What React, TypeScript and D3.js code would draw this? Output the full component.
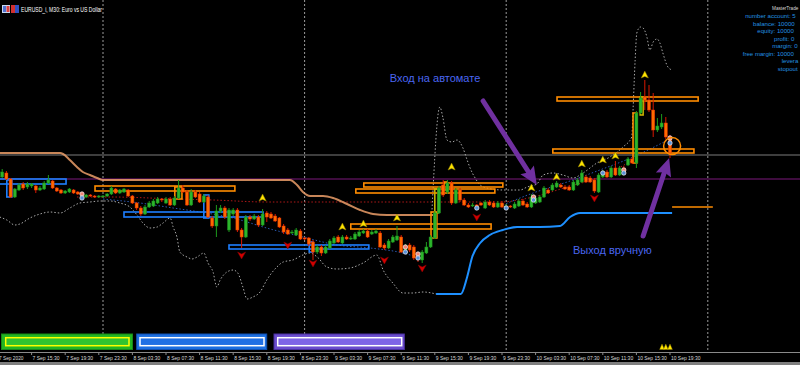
import React from 'react';
import * as d3 from 'd3';

const W = 800;
const H = 365;
const AXIS_Y = 352;

// M30 candles, 7 Sep 2020 12:00 .. 10 Sep 2020 19:30  [open, high, low, close]
const candles: [number, number, number, number][] = [
  [1.1773,1.1781,1.1772,1.1778],[1.1777,1.1779,1.1770,1.1771],[1.1771,1.1772,1.1752,1.1753],[1.1753,1.1762,1.1752,1.1761],
  [1.1760,1.1767,1.1759,1.1765],[1.1766,1.1768,1.1760,1.1762],[1.1763,1.1768,1.1761,1.1766],[1.1764,1.1767,1.1762,1.1766],
  [1.1764,1.1765,1.1757,1.1760],[1.1760,1.1764,1.1759,1.1762],[1.1761,1.1769,1.1760,1.1767],[1.1767,1.1775,1.1766,1.1770],
  [1.1769,1.1770,1.1761,1.1762],[1.1762,1.1763,1.1758,1.1759],[1.1760,1.1761,1.1756,1.1757],[1.1757,1.1760,1.1756,1.1759],
  [1.1758,1.1762,1.1757,1.1761],[1.1760,1.1761,1.1756,1.1757],[1.1758,1.1759,1.1755,1.1756],[1.1757,1.1758,1.1754,1.1755],
  [1.1753,1.1756,1.1752,1.1755],[1.1755,1.1756,1.1753,1.1754],[1.1754,1.1755,1.1752,1.1753],[1.1753,1.1755,1.1752,1.1754],
  [1.1754,1.1755,1.1753,1.1754],[1.1754,1.1757,1.1753,1.1756],[1.1756,1.1764,1.1755,1.1762],[1.1761,1.1762,1.1756,1.1757],
  [1.1757,1.1761,1.1756,1.1760],[1.1758,1.1762,1.1757,1.1761],[1.1760,1.1761,1.1753,1.1754],[1.1754,1.1755,1.1746,1.1747],
  [1.1747,1.1748,1.1740,1.1742],[1.1742,1.1744,1.1734,1.1736],[1.1736,1.1745,1.1735,1.1743],[1.1743,1.1749,1.1742,1.1747],
  [1.1744,1.1751,1.1743,1.1749],[1.1747,1.1753,1.1746,1.1751],[1.1751,1.1752,1.1748,1.1750],[1.1747,1.1753,1.1746,1.1751],
  [1.1751,1.1753,1.1744,1.1745],[1.1745,1.1754,1.1744,1.1752],[1.1752,1.1770,1.1751,1.1762],[1.1762,1.1765,1.1757,1.1758],
  [1.1758,1.1760,1.1744,1.1745],[1.1745,1.1761,1.1744,1.1758],[1.1758,1.1760,1.1752,1.1753],[1.1756,1.1758,1.1747,1.1748],
  [1.1748,1.1756,1.1747,1.1754],[1.1753,1.1755,1.1732,1.1733],[1.1732,1.1734,1.1722,1.1724],[1.1724,1.1745,1.1713,1.1739],
  [1.1739,1.1745,1.1737,1.1742],[1.1742,1.1744,1.1731,1.1733],[1.1720,1.1742,1.1718,1.1740],[1.1736,1.1742,1.1734,1.1740],
  [1.1740,1.1742,1.1718,1.1720],[1.1720,1.1722,1.1702,1.1713],[1.1713,1.1735,1.1712,1.1733],[1.1733,1.1735,1.1729,1.1731],
  [1.1731,1.1736,1.1730,1.1734],[1.1733,1.1735,1.1723,1.1725],[1.1725,1.1741,1.1724,1.1736],[1.1737,1.1739,1.1728,1.1733],
  [1.1736,1.1738,1.1731,1.1732],[1.1734,1.1736,1.1728,1.1729],[1.1732,1.1733,1.1722,1.1723],[1.1724,1.1726,1.1716,1.1718],
  [1.1720,1.1722,1.1715,1.1716],[1.1717,1.1720,1.1716,1.1718],[1.1715,1.1722,1.1714,1.1720],[1.1719,1.1721,1.1710,1.1711],
  [1.1712,1.1713,1.1710,1.1711],[1.1712,1.1713,1.1704,1.1706],[1.1708,1.1710,1.1690,1.1698],[1.1698,1.1705,1.1696,1.1703],
  [1.1703,1.1705,1.1694,1.1697],[1.1697,1.1705,1.1696,1.1703],[1.1702,1.1711,1.1701,1.1709],[1.1707,1.1714,1.1706,1.1712],
  [1.1713,1.1715,1.1707,1.1708],[1.1707,1.1715,1.1706,1.1713],[1.1713,1.1715,1.1710,1.1711],[1.1711,1.1714,1.1710,1.1712],
  [1.1711,1.1718,1.1710,1.1716],[1.1714,1.1720,1.1713,1.1718],[1.1717,1.1721,1.1716,1.1719],[1.1719,1.1721,1.1712,1.1713],
  [1.1716,1.1720,1.1715,1.1718],[1.1717,1.1721,1.1716,1.1719],[1.1717,1.1719,1.1702,1.1703],[1.1705,1.1707,1.1700,1.1702],
  [1.1702,1.1711,1.1701,1.1709],[1.1708,1.1715,1.1707,1.1713],[1.1710,1.1724,1.1709,1.1714],[1.1713,1.1715,1.1697,1.1698],
  [1.1700,1.1706,1.1699,1.1704],[1.1705,1.1707,1.1698,1.1700],[1.1703,1.1705,1.1690,1.1692],[1.1694,1.1696,1.1688,1.1692],
  [1.1690,1.1700,1.1687,1.1698],[1.1697,1.1708,1.1696,1.1703],[1.1703,1.1715,1.1702,1.1713],[1.1712,1.1739,1.1711,1.1737],
  [1.1737,1.1764,1.1736,1.1762],[1.1765,1.1770,1.1753,1.1755],[1.1758,1.1770,1.1756,1.1767],[1.1767,1.1769,1.1745,1.1747],
  [1.1747,1.1762,1.1746,1.1760],[1.1760,1.1762,1.1748,1.1750],[1.1750,1.1752,1.1744,1.1745],[1.1745,1.1747,1.1742,1.1743],
  [1.1744,1.1747,1.1743,1.1745],[1.1745,1.1746,1.1743,1.1744],[1.1747,1.1748,1.1744,1.1745],[1.1742,1.1750,1.1741,1.1748],
  [1.1748,1.1750,1.1744,1.1745],[1.1747,1.1749,1.1742,1.1743],[1.1743,1.1749,1.1742,1.1747],[1.1747,1.1749,1.1742,1.1743],
  [1.1743,1.1746,1.1742,1.1744],[1.1744,1.1745,1.1742,1.1743],[1.1742,1.1748,1.1741,1.1746],[1.1744,1.1751,1.1743,1.1749],
  [1.1749,1.1751,1.1744,1.1745],[1.1746,1.1748,1.1742,1.1743],[1.1743,1.1756,1.1742,1.1753],[1.1747,1.1754,1.1746,1.1752],
  [1.1748,1.1755,1.1747,1.1753],[1.1753,1.1764,1.1752,1.1762],[1.1760,1.1762,1.1756,1.1757],[1.1760,1.1767,1.1759,1.1765],
  [1.1763,1.1769,1.1762,1.1767],[1.1765,1.1767,1.1762,1.1763],[1.1763,1.1765,1.1760,1.1761],[1.1763,1.1765,1.1759,1.1760],
  [1.1760,1.1770,1.1759,1.1768],[1.1765,1.1772,1.1764,1.1770],[1.1768,1.1780,1.1767,1.1777],[1.1773,1.1775,1.1767,1.1768],
  [1.1772,1.1774,1.1767,1.1768],[1.1770,1.1772,1.1757,1.1759],[1.1758,1.1777,1.1757,1.1775],[1.1773,1.1780,1.1772,1.1778],
  [1.1778,1.1780,1.1772,1.1773],[1.1773,1.1784,1.1772,1.1782],[1.1782,1.1789,1.1774,1.1775],[1.1775,1.1784,1.1774,1.1782],
  [1.1782,1.1784,1.1777,1.1778],[1.1785,1.1793,1.1784,1.1791],[1.1791,1.1793,1.1786,1.1787],[1.1787,1.1839,1.1782,1.1837],
  [1.1837,1.1858,1.1836,1.1852],[1.1853,1.1870,1.1840,1.1850],[1.1850,1.1865,1.1838,1.1840],[1.1840,1.1857,1.1813,1.1820],
  [1.1820,1.1832,1.1818,1.1824],[1.1823,1.1836,1.1821,1.1827],[1.1827,1.1833,1.1811,1.1813],[1.1813,1.1815,1.1792,1.1797],
];

// time axis (bar indices of ticks) and labels
const tickIdx = [-1, 7, 15, 23, 31, 39, 47, 55, 63, 71, 79, 87, 95, 103, 111, 119, 127, 135, 143, 151, 159];
const tickLabels = [
  '7 Sep 2020', '7 Sep 15:30', '7 Sep 19:30', '7 Sep 23:30', '8 Sep 03:30', '8 Sep 07:30', '8 Sep 11:30',
  '8 Sep 15:30', '8 Sep 19:30', '8 Sep 23:30', '9 Sep 03:30', '9 Sep 07:30', '9 Sep 11:30', '9 Sep 15:30',
  '9 Sep 19:30', '9 Sep 23:30', '10 Sep 03:30', '10 Sep 07:30', '10 Sep 11:30', '10 Sep 15:30', '10 Sep 19:30',
];
const daySeparatorIdx = [24, 72, 120, 168];

// horizontal levels
const bidPrice = 1.1795;
const purpleLevel = 1.1771;

// indicator lines [barIndex, price]
const maLine: [number, number][] = [
  [-0.6,1.1797],[13.8,1.1797],[14.5,1.1796],[16.1,1.1790],[17.8,1.1783],[19.2,1.1778],[20.9,1.1775],[22.6,1.1772],
  [24,1.1770],[68.5,1.1770],[70.2,1.1765],[71.6,1.1758],[73.3,1.1754],[76.4,1.1754],[78.8,1.1752],[82.1,1.1746],
  [85.2,1.1740],[88.3,1.1736],[91.6,1.1735],[102.6,1.1735],
];
const lowerBand: [number, number][] = [
  [-0.6,1.1733],[1.1,1.1730],[3.0,1.1725],[4.2,1.1726],[6.6,1.1732],[9.0,1.1736],[11.4,1.1738],[13.8,1.1737],
  [16.1,1.1742],[18.5,1.1747],[20.9,1.1748],[23.3,1.1749],[25.7,1.1749],[28.0,1.1747],[30.4,1.1743],[32.1,1.1735],
  [33.5,1.1727],[35.2,1.1722],[36.9,1.1723],[38.3,1.1727],[40.0,1.1732],[40.7,1.1723],[41.6,1.1713],[42.3,1.1698],
  [44.0,1.1693],[45.2,1.1691],[46.4,1.1693],[48.0,1.1697],[49.0,1.1687],[50.2,1.1678],[51.1,1.1663],[51.9,1.1670],
  [53.5,1.1678],[55.0,1.1680],[56.1,1.1677],[57.3,1.1663],[58.3,1.1651],[59.7,1.1653],[61.4,1.1658],[63.0,1.1670],
  [65.4,1.1683],[66.9,1.1688],[69.2,1.1690],[71.6,1.1695],[73.3,1.1697],[75.0,1.1693],[77.3,1.1683],[79.7,1.1681],
  [82.8,1.1682],[85.9,1.1687],[89.2,1.1695],[90.7,1.1680],[93.0,1.1667],[95.4,1.1657],[97.8,1.1657],[100.2,1.1658],
  [103.3,1.1656],
];
const upperBand: [number, number][] = [
  [102.3,1.1737],[104.2,1.1843],[104.9,1.1833],[105.9,1.1810],[107.1,1.1808],[108.3,1.1810],[109.7,1.1802],
  [110.7,1.1790],[111.4,1.1782],[112.6,1.1772],[113.8,1.1765],[115.4,1.1762],[119.2,1.1760],[123.3,1.1760],
  [125.0,1.1763],[127.3,1.1766],[128.8,1.1775],[131.1,1.1777],[133.5,1.1775],[135.9,1.1772],[138.3,1.1777],
  [141.6,1.1787],[144.7,1.1793],[147.8,1.1803],[149.9,1.1813],[150.2,1.1840],[150.7,1.1890],[151.1,1.1917],
  [151.9,1.1923],[152.6,1.1922],[153.5,1.1913],[154.2,1.1900],[155.0,1.1908],[155.9,1.1911],[156.6,1.1907],
  [157.3,1.1897],[158.5,1.1883],[159.5,1.1880],
];
const trailLine: [number, number][] = [
  [103.3,1.1656],[109.2,1.1656],[110.7,1.1673],[111.9,1.1693],[113.8,1.1707],[116.1,1.1715],[119.2,1.1720],
  [122.6,1.1723],[128.0,1.1723],[132.8,1.1724],[135.2,1.1733],[137.6,1.1737],[144.0,1.1737],[159.5,1.1737],
];
const orangeLevel: [number, number][] = [[159.5,1.1743],[169.2,1.1743]];
const redDotted: [number, number][] = [
  [17.8,1.1753],[25.7,1.1753],[41.6,1.1751],[50.2,1.1750],[63.0,1.1748],[108.3,1.1748],[118.5,1.1748],
  [126.4,1.1753],[134.5,1.1763],[142.3,1.1773],[150.2,1.1790],
];
const blueDottedA: [number, number][] = [
  [24,1.1751],[32.8,1.1747],[40.7,1.1742],[47.1,1.1738],[54.9,1.1732],[63.8,1.1721],[71.6,1.1713],
  [79.7,1.1705],[87.6,1.1702],[95.4,1.1697],[98.8,1.1693],
];
const blueDottedB: [number, number][] = [
  [119.2,1.1745],[126.4,1.1757],[134.5,1.1768],[142.3,1.1780],[150.2,1.1793],[158.5,1.1810],
];

// boxes [fromIdx, toIdx, topPrice, bottomPrice]
const orangeBoxes: [number, number, number, number][] = [
  [22.1,55.4,1.1764,1.1759],[41.1,42.8,1.1763,1.1751],[86.1,119.2,1.1767,1.1763],[84.2,117.3,1.1761,1.1757],
  [105.2,105.9,1.1768,1.1760],[83.0,116.4,1.1726,1.1721],[102.1,103.5,1.1738,1.1712],[132.1,165.7,1.1853,1.1849],
  [131.1,164.7,1.1801,1.1797],[150.2,151.1,1.1837,1.1787],
];
const oliveBoxes: [number, number, number, number][] = [
  [151.9,152.6,1.1853,1.1835],[103.0,103.8,1.1761,1.1737],
];
const blueBoxes: [number, number, number, number][] = [
  [-2,15.2,1.1771,1.1766],[1.1,2.3,1.1770,1.1753],[29.0,62.1,1.1738,1.1733],[48.0,49.2,1.1755,1.1732],
  [54.0,87.3,1.1705,1.1701],[73.1,74.0,1.1708,1.1698],
];

// signal arrows
const upIdx = [62, 81, 86, 94, 107, 126, 132, 138, 143, 146, 153];
const upPrice = [1.1752, 1.1723, 1.1726, 1.1732, 1.1783, 1.1762, 1.1773, 1.1786, 1.1790, 1.1794, 1.1875];
const downIdx = [57, 68, 74, 91, 100, 113, 141];
const downPrice = [1.1695, 1.1705, 1.1687, 1.1690, 1.1682, 1.1733, 1.1752];
const pairIdx = [19, 96, 99, 126.5, 148, 159];
const pairTop = [1.1756, 1.1703, 1.1696, 1.1753, 1.1780, 1.1812];
const pairBottom = [1.1752, 1.1698, 1.1692, 1.1750, 1.1777, 1.1807];
const singleIdx = [113, 120, 143];
const singlePrice = [1.1742, 1.1742, 1.1777];
const bottomSignalIdx = [157.1, 158, 159];

// annotations
const entryArrow = { from: [114.5, 1.1849], to: [127.3, 1.1765] };
const exitArrow = { from: [152.6, 1.1714], to: [158.8, 1.1792] };
const entryText = { idx: 92.3, price: 1.1868, text: 'Вход на автомате' };
const exitText = { idx: 135.9, price: 1.1696, text: 'Выход вручную' };
const exitCircle = { idx: 159.5, price: 1.1804 };

// account panel (the visible part, cut by the window edge)
const accountLines = [
  { x: 745.2, y: 18, t: 'number account: 5' },
  { x: 753, y: 25.5, t: 'balance: 10000' },
  { x: 757.3, y: 33, t: 'equity: 10000' },
  { x: 774, y: 40.5, t: 'profit: 0' },
  { x: 772.2, y: 48, t: 'margin: 0' },
  { x: 742.7, y: 55.5, t: 'free margin: 10000' },
  { x: 781.7, y: 63, t: 'levera' },
  { x: 777.7, y: 70.5, t: 'stopout' },
];

export default function App() {
  const x = d3.scaleLinear().domain([0, 159]).range([2.2, 670]);
  const y = d3.scaleLinear().domain([1.1598, 1.1950]).range([AXIS_Y, 0]);
  const smooth = d3.line<[number, number]>().x(d => x(d[0])).y(d => y(d[1])).curve(d3.curveMonotoneX);
  const straight = d3.line<[number, number]>().x(d => x(d[0])).y(d => y(d[1]));

  const arrow = (a: { from: number[]; to: number[] }) => {
    const x1 = x(a.from[0]), y1 = y(a.from[1]), x2 = x(a.to[0]), y2 = y(a.to[1]);
    const dx = x2 - x1, dy = y2 - y1, len = Math.hypot(dx, dy);
    const ux = dx / len, uy = dy / len;
    const hl = 18, hw = 8;
    const bx = x2 - ux * hl, by = y2 - uy * hl;
    const px = -uy, py = ux;
    return (
      <g>
        <line x1={x1} y1={y1} x2={bx + ux * 2} y2={by + uy * 2} stroke="#7030a0" strokeWidth={5} strokeLinecap="round" />
        <path d={`M${x2},${y2}L${bx + px * hw},${by + py * hw}L${bx + ux * 3},${by + uy * 3}L${bx - px * hw},${by - py * hw}Z`} fill="#7030a0" />
      </g>
    );
  };

  const box = (b: [number, number, number, number], color: string, i: number) => (
    <rect key={i} x={x(b[0])} y={y(b[2])} width={x(b[1]) - x(b[0])} height={y(b[3]) - y(b[2])}
      fill="none" stroke={color} strokeWidth={1.6} />
  );

  return (
    <svg width={W} height={H} style={{ position: 'absolute', left: 0, top: 0, background: '#000' }}
      fontFamily="'Liberation Sans', Arial, sans-serif">
      <rect width={W} height={H} fill="#000" />

      {daySeparatorIdx.map((d, i) => (
        <line key={i} x1={x(d)} x2={x(d)} y1={0} y2={AXIS_Y} stroke="#9a9a9a" strokeWidth={1} strokeDasharray="2,2" />
      ))}

      <line x1={0} x2={W} y1={y(bidPrice)} y2={y(bidPrice)} stroke="#7c7c7c" strokeWidth={1} />
      <line x1={0} x2={W} y1={y(purpleLevel)} y2={y(purpleLevel)} stroke="#7c187c" strokeWidth={1.2} />

      <path d={smooth(lowerBand)!} fill="none" stroke="#a8a8a8" strokeWidth={1} strokeDasharray="1.5,2" />
      <path d={smooth(upperBand)!} fill="none" stroke="#a8a8a8" strokeWidth={1} strokeDasharray="1.5,2" />
      <path d={smooth(redDotted)!} fill="none" stroke="#b01818" strokeWidth={1} strokeDasharray="1.5,2" />
      <path d={smooth(blueDottedA)!} fill="none" stroke="#2a58b0" strokeWidth={1} strokeDasharray="1.5,2" />
      <path d={smooth(blueDottedB)!} fill="none" stroke="#2a58b0" strokeWidth={1} strokeDasharray="1.5,2" />

      <path d={smooth(maLine)!} fill="none" stroke="#f4a46c" strokeWidth={2} strokeOpacity={0.82} />
      <path d={smooth(trailLine)!} fill="none" stroke="#1e90ff" strokeWidth={2} />
      <path d={straight(orangeLevel)!} fill="none" stroke="#ff8c00" strokeWidth={1.5} />

      {blueBoxes.map((b, i) => box(b, '#1e7fff', i))}
      {orangeBoxes.map((b, i) => box(b, '#ff8c00', i))}
      {oliveBoxes.map((b, i) => box(b, '#c8b000', i))}

      {candles.map((c, i) => {
        const [o, h, l, cl] = c;
        const bull = cl >= o;
        const cx = x(i);
        const top = y(Math.max(o, cl));
        const bot = y(Math.min(o, cl));
        return (
          <g key={i}>
            <line x1={cx} x2={cx} y1={y(h)} y2={y(l)} stroke={bull ? '#1c9a1c' : '#d81800'} strokeWidth={1} />
            <rect x={cx - 1.5} y={top} width={3} height={Math.max(1, bot - top)}
              fill={bull ? '#2cb52c' : '#ff6a00'} stroke={bull ? '#1a8a1a' : '#e83000'} strokeWidth={0.5} />
          </g>
        );
      })}

      {upIdx.map((d, i) => {
        const cx = x(d), cy = y(upPrice[i]);
        return <path key={i} d={`M${cx},${cy - 4}L${cx + 3.6},${cy + 3}L${cx},${cy + 1.4}L${cx - 3.6},${cy + 3}Z`}
          fill="#ffe400" stroke="#8a7a00" strokeWidth={0.5} />;
      })}
      {downIdx.map((d, i) => {
        const cx = x(d), cy = y(downPrice[i]);
        return <path key={i} d={`M${cx},${cy + 4}L${cx + 4},${cy - 3}L${cx},${cy - 1}L${cx - 4},${cy - 3}Z`}
          fill="#d40000" stroke="#800000" strokeWidth={0.5} />;
      })}
      {pairIdx.map((d, i) => (
        <g key={i}>
          <circle cx={x(d)} cy={y(pairTop[i])} r={2.2} fill="#f08878" stroke="#f0f0f0" strokeWidth={0.7} />
          <circle cx={x(d)} cy={y(pairBottom[i])} r={2.2} fill="#5a90d8" stroke="#f0f0f0" strokeWidth={0.7} />
        </g>
      ))}
      {singleIdx.map((d, i) => (
        <circle key={i} cx={x(d)} cy={y(singlePrice[i])} r={2.2} fill="#5a90d8" stroke="#f0f0f0" strokeWidth={0.7} />
      ))}
      {bottomSignalIdx.map((d, i) => {
        const cx = x(d), cy = 347;
        return <path key={i} d={`M${cx},${cy - 3}L${cx + 2.4},${cy + 2.5}L${cx - 2.4},${cy + 2.5}Z`} fill="#ffe400" stroke="#8a7a00" strokeWidth={0.4} />;
      })}

      <circle cx={x(exitCircle.idx)} cy={y(exitCircle.price)} r={8.5} fill="none" stroke="#ff8c00" strokeWidth={1.5} />
      {arrow(entryArrow)}
      {arrow(exitArrow)}
      <text x={x(entryText.idx)} y={y(entryText.price)} fontSize={11} fill="#4a66f0">{entryText.text}</text>
      <text x={x(exitText.idx)} y={y(exitText.price)} fontSize={11} fill="#4a66f0">{exitText.text}</text>

      {/* panels / buttons */}
      <rect x={1.5} y={334} width={131} height={15.5} fill="#22b422" stroke="#178a17" strokeWidth={1} />
      <rect x={5.7} y={337.7} width={123.3} height={8} fill="#30c430" stroke="#ffff00" strokeWidth={1.5} />
      <rect x={136.7} y={334} width={130} height={15.5} fill="#1c6ee0" stroke="#1050b0" strokeWidth={1} />
      <rect x={140} y={337.7} width={124} height={8} fill="#2070e4" stroke="#ffffff" strokeWidth={1.5} />
      <rect x={274} y={334} width={130.3} height={15.5} fill="#6a4ccc" stroke="#4a30a0" strokeWidth={1} />
      <rect x={277.7} y={337.7} width={124} height={8} fill="#7e64e6" stroke="#ffffff" strokeWidth={1.5} />

      {/* time axis */}
      <line x1={0} x2={W} y1={AXIS_Y + 0.5} y2={AXIS_Y + 0.5} stroke="#8a8a8a" strokeWidth={1} />
      {tickIdx.map((d, i) => (
        <g key={i}>
          <line x1={x(d)} x2={x(d)} y1={AXIS_Y} y2={AXIS_Y + 3} stroke="#8a8a8a" strokeWidth={1} />
          <text x={x(d) + 1} y={359.5} fontSize={5.6} fill="#d8d8d8"
            textLength={tickLabels[i].length * 2.45} lengthAdjust="spacingAndGlyphs">{tickLabels[i]}</text>
        </g>
      ))}
      <rect x={0} y={362} width={W} height={3} fill="#7f7f7f" />

      {/* header */}
      <rect x={2} y={5} width={8} height={8} fill="#c8d8f0" />
      <rect x={3} y={6} width={3} height={6} fill="#5070d0" />
      <rect x={6.5} y={6} width={3} height={6} fill="#e04040" />
      <rect x={11} y={5} width={8} height={8} fill="#d03030" />
      <rect x={15} y={5} width={4} height={8} fill="#3050c0" />
      <text x={21} y={12} fontSize={7} fill="#ffffff" textLength={81} lengthAdjust="spacingAndGlyphs">EURUSD_i, M30:  Euro vs US Dollar</text>

      <text x={772} y={10} fontSize={4.7} fill="#d8d8d8">MasterTrade</text>
      {accountLines.map((a, i) => (
        <text key={i} x={a.x} y={a.y} fontSize={6.1} fill="#2391e0">{a.t}</text>
      ))}
    </svg>
  );
}
